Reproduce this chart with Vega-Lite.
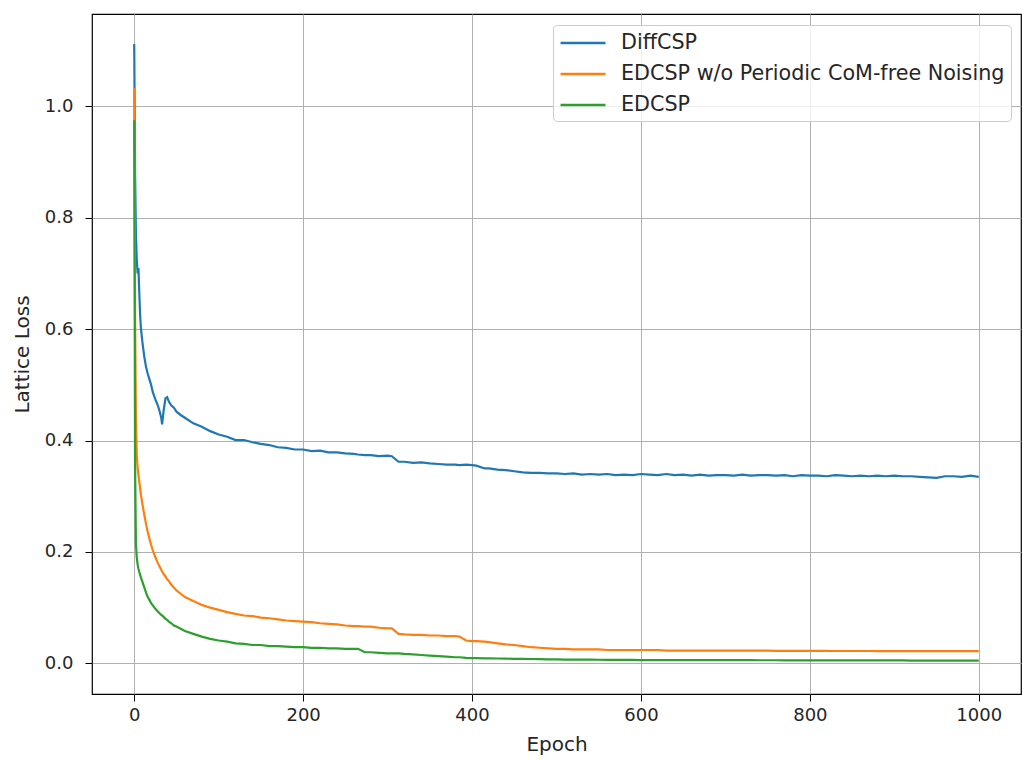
{
  "$schema": "https://vega.github.io/schema/vega-lite/v6.json",
  "width": 929,
  "height": 680,
  "autosize": {"type": "none"},
  "padding": {"left": 92, "top": 14, "right": 2, "bottom": 67},
  "background": "white",
  "config": {
    "font": "DejaVu Sans",
    "view": {"stroke": "#000000", "strokeWidth": 1.2},
    "axis": {
      "domain": false,
      "grid": true,
      "gridColor": "#b0b0b0",
      "gridWidth": 1,
      "tickColor": "#000000",
      "tickSize": 7,
      "tickWidth": 1,
      "labelFont": "DejaVu Sans",
      "labelFontSize": 18,
      "labelColor": "#262626",
      "titleFont": "DejaVu Sans",
      "titleFontSize": 20,
      "titleFontWeight": "normal",
      "titleColor": "#262626"
    }
  },
  "data": {
    "values": [
      {"epoch": 0, "d": 1.112, "w": 1.033, "e": 0.975},
      {"epoch": 1, "d": 0.88, "w": 0.62, "e": 0.36},
      {"epoch": 2, "d": 0.77, "w": 0.44, "e": 0.215},
      {"epoch": 3, "d": 0.725, "w": 0.375, "e": 0.19},
      {"epoch": 4, "d": 0.70, "w": 0.352, "e": 0.178},
      {"epoch": 5, "d": 0.71, "w": 0.338, "e": 0.17},
      {"epoch": 6, "d": 0.665, "w": 0.326, "e": 0.164},
      {"epoch": 7, "d": 0.625, "w": 0.314, "e": 0.159},
      {"epoch": 8, "d": 0.60, "w": 0.302, "e": 0.154},
      {"epoch": 10, "d": 0.573, "w": 0.283, "e": 0.145},
      {"epoch": 12, "d": 0.55, "w": 0.266, "e": 0.136},
      {"epoch": 14, "d": 0.532, "w": 0.25, "e": 0.127},
      {"epoch": 16, "d": 0.52, "w": 0.236, "e": 0.119},
      {"epoch": 18, "d": 0.51, "w": 0.224, "e": 0.114},
      {"epoch": 20, "d": 0.50, "w": 0.213, "e": 0.108},
      {"epoch": 22, "d": 0.487, "w": 0.203, "e": 0.104},
      {"epoch": 25, "d": 0.474, "w": 0.191, "e": 0.098},
      {"epoch": 28, "d": 0.463, "w": 0.180, "e": 0.093},
      {"epoch": 30, "d": 0.453, "w": 0.174, "e": 0.090},
      {"epoch": 32, "d": 0.441, "w": 0.168, "e": 0.087},
      {"epoch": 33, "d": 0.429, "w": 0.165, "e": 0.086},
      {"epoch": 35, "d": 0.456, "w": 0.160, "e": 0.083},
      {"epoch": 37, "d": 0.476, "w": 0.156, "e": 0.080},
      {"epoch": 39, "d": 0.478, "w": 0.151, "e": 0.078},
      {"epoch": 41, "d": 0.470, "w": 0.148, "e": 0.075},
      {"epoch": 44, "d": 0.463, "w": 0.141, "e": 0.072},
      {"epoch": 47, "d": 0.459, "w": 0.136, "e": 0.068},
      {"epoch": 50, "d": 0.452, "w": 0.131, "e": 0.066},
      {"epoch": 55, "d": 0.446, "w": 0.125, "e": 0.062},
      {"epoch": 60, "d": 0.441, "w": 0.119, "e": 0.058},
      {"epoch": 70, "d": 0.431, "w": 0.112, "e": 0.053},
      {"epoch": 80, "d": 0.425, "w": 0.105, "e": 0.048},
      {"epoch": 90, "d": 0.417, "w": 0.100, "e": 0.044},
      {"epoch": 100, "d": 0.411, "w": 0.096, "e": 0.041},
      {"epoch": 110, "d": 0.407, "w": 0.092, "e": 0.039},
      {"epoch": 120, "d": 0.401, "w": 0.089, "e": 0.036},
      {"epoch": 130, "d": 0.401, "w": 0.086, "e": 0.035},
      {"epoch": 140, "d": 0.397, "w": 0.085, "e": 0.033},
      {"epoch": 150, "d": 0.394, "w": 0.082, "e": 0.033},
      {"epoch": 160, "d": 0.392, "w": 0.081, "e": 0.031},
      {"epoch": 170, "d": 0.388, "w": 0.079, "e": 0.031},
      {"epoch": 180, "d": 0.387, "w": 0.077, "e": 0.030},
      {"epoch": 190, "d": 0.384, "w": 0.076, "e": 0.029},
      {"epoch": 200, "d": 0.384, "w": 0.075, "e": 0.029},
      {"epoch": 210, "d": 0.381, "w": 0.074, "e": 0.028},
      {"epoch": 220, "d": 0.382, "w": 0.072, "e": 0.028},
      {"epoch": 230, "d": 0.379, "w": 0.071, "e": 0.027},
      {"epoch": 240, "d": 0.379, "w": 0.070, "e": 0.027},
      {"epoch": 250, "d": 0.377, "w": 0.068, "e": 0.026},
      {"epoch": 260, "d": 0.376, "w": 0.067, "e": 0.026},
      {"epoch": 265, "d": 0.375, "w": 0.067, "e": 0.026},
      {"epoch": 273, "d": 0.374, "w": 0.066, "e": 0.020},
      {"epoch": 280, "d": 0.374, "w": 0.066, "e": 0.020},
      {"epoch": 290, "d": 0.372, "w": 0.064, "e": 0.019},
      {"epoch": 300, "d": 0.373, "w": 0.063, "e": 0.018},
      {"epoch": 305, "d": 0.372, "w": 0.063, "e": 0.018},
      {"epoch": 313, "d": 0.362, "w": 0.053, "e": 0.018},
      {"epoch": 320, "d": 0.362, "w": 0.052, "e": 0.017},
      {"epoch": 330, "d": 0.360, "w": 0.051, "e": 0.016},
      {"epoch": 340, "d": 0.361, "w": 0.051, "e": 0.015},
      {"epoch": 350, "d": 0.359, "w": 0.050, "e": 0.014},
      {"epoch": 360, "d": 0.358, "w": 0.050, "e": 0.013},
      {"epoch": 370, "d": 0.357, "w": 0.049, "e": 0.012},
      {"epoch": 380, "d": 0.357, "w": 0.049, "e": 0.011},
      {"epoch": 385, "d": 0.356, "w": 0.048, "e": 0.011},
      {"epoch": 393, "d": 0.357, "w": 0.041, "e": 0.010},
      {"epoch": 400, "d": 0.356, "w": 0.040, "e": 0.0095},
      {"epoch": 405, "d": 0.355, "w": 0.040, "e": 0.0093},
      {"epoch": 415, "d": 0.350, "w": 0.039, "e": 0.009},
      {"epoch": 420, "d": 0.350, "w": 0.038, "e": 0.009},
      {"epoch": 430, "d": 0.348, "w": 0.036, "e": 0.0087},
      {"epoch": 440, "d": 0.347, "w": 0.034, "e": 0.0085},
      {"epoch": 450, "d": 0.345, "w": 0.033, "e": 0.008},
      {"epoch": 460, "d": 0.343, "w": 0.031, "e": 0.008},
      {"epoch": 470, "d": 0.342, "w": 0.029, "e": 0.0078},
      {"epoch": 480, "d": 0.342, "w": 0.028, "e": 0.0075},
      {"epoch": 490, "d": 0.341, "w": 0.027, "e": 0.0073},
      {"epoch": 500, "d": 0.341, "w": 0.026, "e": 0.007},
      {"epoch": 510, "d": 0.340, "w": 0.026, "e": 0.0069},
      {"epoch": 520, "d": 0.341, "w": 0.025, "e": 0.0068},
      {"epoch": 530, "d": 0.339, "w": 0.025, "e": 0.0067},
      {"epoch": 540, "d": 0.340, "w": 0.025, "e": 0.0066},
      {"epoch": 550, "d": 0.339, "w": 0.025, "e": 0.0065},
      {"epoch": 560, "d": 0.340, "w": 0.024, "e": 0.0064},
      {"epoch": 570, "d": 0.338, "w": 0.024, "e": 0.0063},
      {"epoch": 580, "d": 0.339, "w": 0.024, "e": 0.0062},
      {"epoch": 590, "d": 0.338, "w": 0.024, "e": 0.0061},
      {"epoch": 600, "d": 0.340, "w": 0.024, "e": 0.006},
      {"epoch": 610, "d": 0.339, "w": 0.024, "e": 0.006},
      {"epoch": 620, "d": 0.338, "w": 0.024, "e": 0.006},
      {"epoch": 630, "d": 0.340, "w": 0.023, "e": 0.006},
      {"epoch": 640, "d": 0.338, "w": 0.023, "e": 0.006},
      {"epoch": 650, "d": 0.339, "w": 0.023, "e": 0.0059},
      {"epoch": 660, "d": 0.337, "w": 0.023, "e": 0.0059},
      {"epoch": 670, "d": 0.339, "w": 0.023, "e": 0.0058},
      {"epoch": 680, "d": 0.337, "w": 0.023, "e": 0.0058},
      {"epoch": 690, "d": 0.338, "w": 0.023, "e": 0.0058},
      {"epoch": 700, "d": 0.338, "w": 0.023, "e": 0.0058},
      {"epoch": 710, "d": 0.337, "w": 0.023, "e": 0.0057},
      {"epoch": 720, "d": 0.339, "w": 0.023, "e": 0.0057},
      {"epoch": 730, "d": 0.337, "w": 0.023, "e": 0.0057},
      {"epoch": 740, "d": 0.338, "w": 0.023, "e": 0.0056},
      {"epoch": 750, "d": 0.338, "w": 0.023, "e": 0.0056},
      {"epoch": 760, "d": 0.337, "w": 0.0225, "e": 0.0056},
      {"epoch": 770, "d": 0.338, "w": 0.0225, "e": 0.0055},
      {"epoch": 780, "d": 0.336, "w": 0.0225, "e": 0.0055},
      {"epoch": 790, "d": 0.338, "w": 0.0225, "e": 0.0055},
      {"epoch": 800, "d": 0.337, "w": 0.0225, "e": 0.0055},
      {"epoch": 810, "d": 0.337, "w": 0.0225, "e": 0.0054},
      {"epoch": 820, "d": 0.336, "w": 0.0225, "e": 0.0054},
      {"epoch": 830, "d": 0.338, "w": 0.0222, "e": 0.0054},
      {"epoch": 840, "d": 0.337, "w": 0.0222, "e": 0.0053},
      {"epoch": 850, "d": 0.336, "w": 0.0222, "e": 0.0053},
      {"epoch": 860, "d": 0.337, "w": 0.0222, "e": 0.0053},
      {"epoch": 870, "d": 0.336, "w": 0.0222, "e": 0.0053},
      {"epoch": 880, "d": 0.337, "w": 0.022, "e": 0.0052},
      {"epoch": 890, "d": 0.336, "w": 0.022, "e": 0.0052},
      {"epoch": 900, "d": 0.337, "w": 0.022, "e": 0.0052},
      {"epoch": 910, "d": 0.336, "w": 0.022, "e": 0.0052},
      {"epoch": 920, "d": 0.336, "w": 0.022, "e": 0.0051},
      {"epoch": 930, "d": 0.335, "w": 0.022, "e": 0.0051},
      {"epoch": 940, "d": 0.334, "w": 0.022, "e": 0.0051},
      {"epoch": 950, "d": 0.333, "w": 0.022, "e": 0.0051},
      {"epoch": 960, "d": 0.336, "w": 0.022, "e": 0.005},
      {"epoch": 970, "d": 0.336, "w": 0.022, "e": 0.005},
      {"epoch": 980, "d": 0.335, "w": 0.022, "e": 0.005},
      {"epoch": 990, "d": 0.337, "w": 0.022, "e": 0.005},
      {"epoch": 1000, "d": 0.335, "w": 0.022, "e": 0.005}
    ]
  },
  "transform": [{"fold": ["d", "w", "e"], "as": ["series", "loss"]}],
  "mark": {"type": "line", "strokeWidth": 2.2, "clip": true},
  "encoding": {
    "x": {
      "field": "epoch",
      "type": "quantitative",
      "scale": {"domain": [-50, 1050], "nice": false, "zero": false},
      "axis": {"values": [0, 200, 400, 600, 800, 1000], "title": "Epoch", "labelPadding": 5, "titlePadding": 10, "format": "d"}
    },
    "y": {
      "field": "loss",
      "type": "quantitative",
      "scale": {"domain": [-0.055, 1.166], "nice": false, "zero": false},
      "axis": {"values": [0, 0.2, 0.4, 0.6, 0.8, 1.0], "format": ".1f", "title": "Lattice Loss", "labelPadding": 12, "titlePadding": 12}
    },
    "color": {
      "field": "series",
      "type": "nominal",
      "sort": ["d", "w", "e"],
      "scale": {"domain": ["d", "w", "e"], "range": ["#1f77b4", "#ff7f0e", "#2ca02c"]},
      "legend": {
        "title": null,
        "orient": "none",
        "legendX": 461,
        "legendY": 11,
        "labelExpr": "datum.value == 'd' ? 'DiffCSP' : datum.value == 'w' ? 'EDCSP w/o Periodic CoM-free Noising' : 'EDCSP'",
        "labelFont": "DejaVu Sans",
        "labelFontSize": 20.7,
        "labelLimit": 600,
        "labelColor": "#262626",
        "symbolType": "M-2.14,0H2.14",
        "symbolSize": 441,
        "symbolStrokeWidth": 2.5,
        "symbolOffset": 12,
        "labelOffset": 26,
        "rowPadding": 9,
        "padding": 6,
        "fillColor": "rgba(255,255,255,0.8)",
        "strokeColor": "#cccccc",
        "cornerRadius": 4
      }
    }
  }
}
